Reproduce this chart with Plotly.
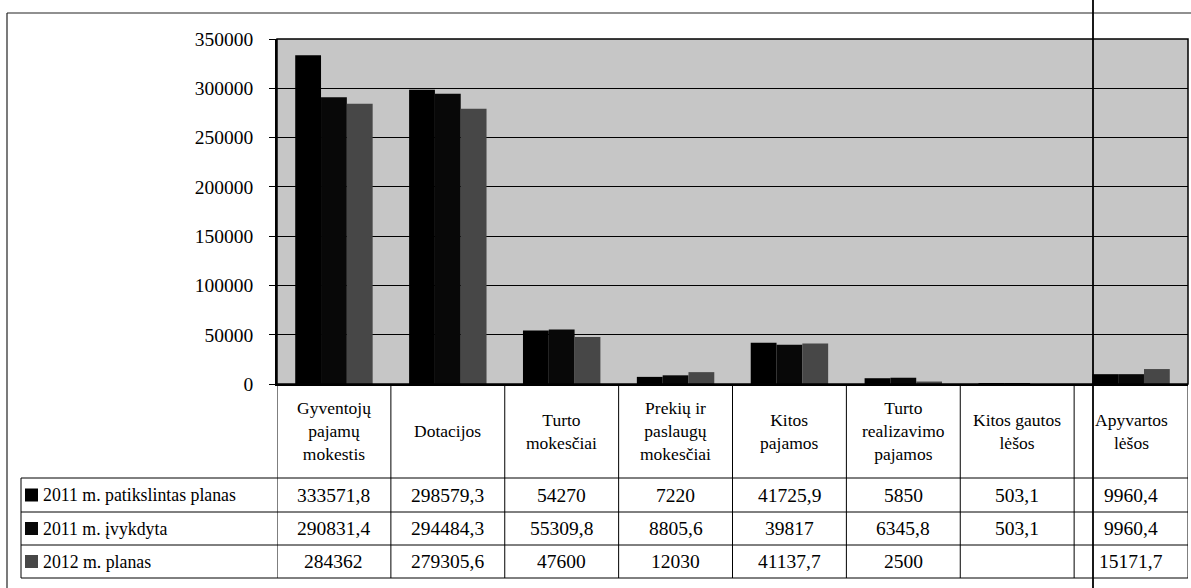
import plotly.graph_objects as go

categories = ["Gyventojų<br>pajamų<br>mokestis", "Dotacijos", "Turto<br>mokesčiai",
              "Prekių ir<br>paslaugų<br>mokesčiai", "Kitos<br>pajamos",
              "Turto<br>realizavimo<br>pajamos", "Kitos gautos<br>lėšos", "Apyvartos<br>lėšos"]
series_names = ["2011 m. patikslintas planas", "2011 m. įvykdyta", "2012 m. planas"]
plan_2011 = [333571.8, 298579.3, 54270, 7220, 41725.9, 5850, 503.1, 9960.4]
done_2011 = [290831.4, 294484.3, 55309.8, 8805.6, 39817, 6345.8, 503.1, 9960.4]
plan_2012 = [284362, 279305.6, 47600, 12030, 41137.7, 2500, None, 15171.7]
series_values = [plan_2011, done_2011, plan_2012]
y_ticks = [0, 50000, 100000, 150000, 200000, 250000, 300000, 350000]

colors = ["#000000", "#080808", "#474747"]
FONT = "Liberation Serif, Times New Roman, serif"

W, H = 1191, 588
L, R, T, B = 277, 3, 39, 204
PW, PH = W - L - R, H - T - B
AXIS_Y = T + PH  # pixel y of zero line


def px_x(px):
    return (px - L) / PW


def px_y(py):
    return (AXIS_Y - py) / PH


def fmt(v):
    if v is None:
        return ""
    if float(v).is_integer():
        return str(int(v))
    return f"{v}".replace(".", ",")


fig = go.Figure()
for name, vals, c in zip(series_names, series_values, colors):
    fig.add_trace(go.Bar(x=categories, y=vals, name=name, marker=dict(color=c, line=dict(width=0))))

shapes = []
annotations = []
line = dict(color="black", width=1)

# table row boundaries (pixel y)
row_lines = [478, 512, 545, 578]
row_centers = [(row_lines[i] + row_lines[i + 1]) / 2 for i in range(3)]
table_left = 21

for py in row_lines:
    shapes.append(dict(type="line", xref="paper", yref="paper", x0=px_x(table_left), x1=1,
                       y0=px_y(py), y1=px_y(py), line=line))
# column lines
n = len(categories)
for k in range(n + 1):
    shapes.append(dict(type="line", xref="x", yref="paper", x0=k - 0.5, x1=k - 0.5,
                       y0=0, y1=px_y(row_lines[-1]), line=line))
shapes.append(dict(type="line", xref="paper", yref="paper", x0=px_x(table_left), x1=px_x(table_left),
                   y0=px_y(row_lines[0]), y1=px_y(row_lines[-1]), line=line))

# category header labels
for cat in categories:
    annotations.append(dict(x=cat, xref="x", y=px_y(431), yref="paper", text=cat, showarrow=False,
                            xanchor="center", yanchor="middle", align="center",
                            font=dict(family=FONT, size=17.5, color="black")))

# legend column + values
for i, (name, vals, c) in enumerate(zip(series_names, series_values, colors)):
    yc = row_centers[i]
    shapes.append(dict(type="rect", xref="paper", yref="paper", x0=px_x(25), x1=px_x(38),
                       y0=px_y(yc - 6.5), y1=px_y(yc + 6.5), fillcolor=c, line=dict(width=0)))
    annotations.append(dict(x=px_x(41), xref="paper", y=px_y(yc), yref="paper", text=name,
                            showarrow=False, xanchor="left", yanchor="middle",
                            font=dict(family=FONT, size=17.8, color="black")))
    for cat, v in zip(categories, vals):
        annotations.append(dict(x=cat, xref="x", y=px_y(yc), yref="paper", text=fmt(v),
                                showarrow=False, xanchor="center", yanchor="middle",
                                font=dict(family=FONT, size=19.5, color="black")))

# plot area border
shapes.append(dict(type="rect", xref="paper", yref="paper", x0=0, x1=1, y0=0, y1=1,
                   line=dict(color="black", width=1.5)))
# outer frame (top and left)
shapes.append(dict(type="line", xref="paper", yref="paper", x0=px_x(7), x1=px_x(W),
                   y0=px_y(13), y1=px_y(13), line=dict(color="#222", width=1.2)))
shapes.append(dict(type="line", xref="paper", yref="paper", x0=px_x(7), x1=px_x(7),
                   y0=px_y(13), y1=px_y(H), line=dict(color="#222", width=1.2)))
# scan crop line
shapes.append(dict(type="line", xref="paper", yref="paper", x0=px_x(1093), x1=px_x(1093),
                   y0=px_y(0), y1=px_y(H), line=dict(color="black", width=1.8)))

fig.update_layout(
    width=W, height=H, autosize=False,
    margin=dict(l=L, r=R, t=T, b=B),
    paper_bgcolor="white", plot_bgcolor="#c6c6c6",
    barmode="group", bargap=0.32, bargroupgap=0,
    showlegend=False,
    shapes=shapes, annotations=annotations,
    font=dict(family=FONT, size=17, color="black"),
)
fig.update_xaxes(showticklabels=False, ticks="", showgrid=False, showline=True,
                 linecolor="black", linewidth=2, range=[-0.5, n - 0.5])
fig.update_yaxes(range=[0, 350000], tickvals=y_ticks, ticktext=[str(t) for t in y_ticks],
                 showgrid=True, gridcolor="black", gridwidth=1, showline=True, linecolor="black",
                 linewidth=1.5, ticks="outside", ticklen=6, tickcolor="black",
                 tickfont=dict(family=FONT, size=19.5, color="black"), ticklabelstandoff=12,
                 zeroline=False)

fig.write_html("out.html", config={"displayModeBar": False},
               post_script="document.body.style.margin='0';document.body.style.overflow='hidden';")
